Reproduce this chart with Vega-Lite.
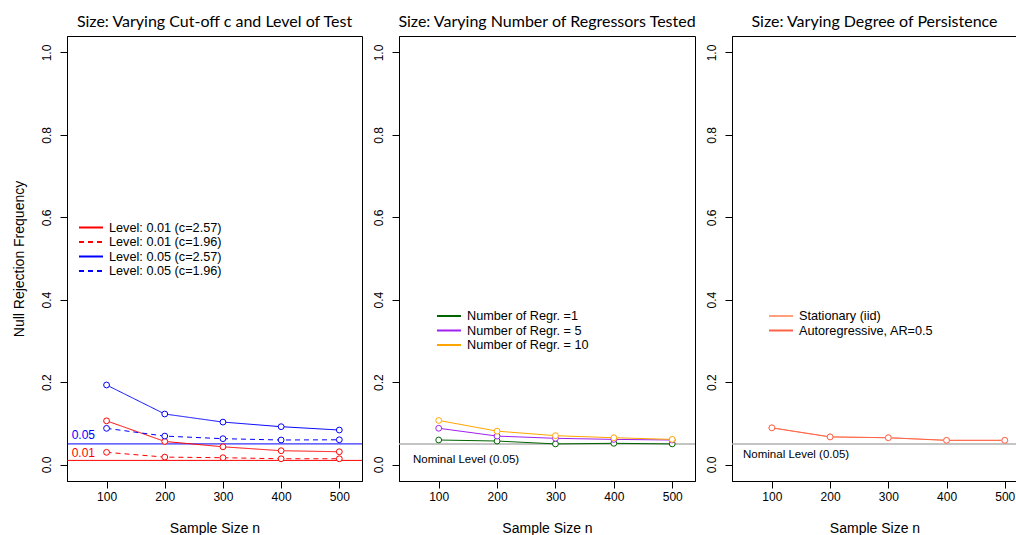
{
  "$schema": "https://vega.github.io/schema/vega-lite/v6.json",
  "background": "white",
  "padding": {"left": 11, "top": 13, "right": 0, "bottom": 0},
  "spacing": 37,
  "bounds": "flush",
  "config": {
    "view": {"stroke": "black", "strokeWidth": 1},
    "font": "Liberation Sans",
    "title": {"font": "Lato", "fontSize": 16, "fontWeight": "normal", "color": "black", "offset": 6, "anchor": "middle"},
    "axis": {"grid": false, "domainColor": "black", "tickColor": "black", "tickSize": 7, "labelColor": "black", "labelFontSize": 12, "labelFont": "Liberation Sans", "titleFont": "Liberation Sans", "titleFontSize": 14, "titleFontWeight": "normal", "titleColor": "black"},
    "axisX": {"labelPadding": 3, "titlePadding": 19, "labelFlush": false},
    "axisY": {"labelAngle": 270, "labelAlign": "center", "labelBaseline": "bottom", "labelPadding": 7, "titlePadding": 14},
    "legend": {"padding": 0, "labelFont": "Liberation Sans", "labelFontSize": 12.7, "labelColor": "black", "symbolSize": 144, "symbolType": "M-2,0H2", "symbolStrokeWidth": 2, "labelOffset": 11, "rowPadding": 0.5, "symbolOffset": 0}
  },
  "datasets": {
    "p1": [
      {"n": 100, "freq": 0.106, "series": "Level: 0.01 (c=2.57)"},
      {"n": 200, "freq": 0.056, "series": "Level: 0.01 (c=2.57)"},
      {"n": 300, "freq": 0.043, "series": "Level: 0.01 (c=2.57)"},
      {"n": 400, "freq": 0.0335, "series": "Level: 0.01 (c=2.57)"},
      {"n": 500, "freq": 0.031, "series": "Level: 0.01 (c=2.57)"},
      {"n": 100, "freq": 0.0296, "series": "Level: 0.01 (c=1.96)"},
      {"n": 200, "freq": 0.018, "series": "Level: 0.01 (c=1.96)"},
      {"n": 300, "freq": 0.0165, "series": "Level: 0.01 (c=1.96)"},
      {"n": 400, "freq": 0.014, "series": "Level: 0.01 (c=1.96)"},
      {"n": 500, "freq": 0.014, "series": "Level: 0.01 (c=1.96)"},
      {"n": 100, "freq": 0.193, "series": "Level: 0.05 (c=2.57)"},
      {"n": 200, "freq": 0.1226, "series": "Level: 0.05 (c=2.57)"},
      {"n": 300, "freq": 0.103, "series": "Level: 0.05 (c=2.57)"},
      {"n": 400, "freq": 0.0918, "series": "Level: 0.05 (c=2.57)"},
      {"n": 500, "freq": 0.0837, "series": "Level: 0.05 (c=2.57)"},
      {"n": 100, "freq": 0.0878, "series": "Level: 0.05 (c=1.96)"},
      {"n": 200, "freq": 0.069, "series": "Level: 0.05 (c=1.96)"},
      {"n": 300, "freq": 0.0627, "series": "Level: 0.05 (c=1.96)"},
      {"n": 400, "freq": 0.0595, "series": "Level: 0.05 (c=1.96)"},
      {"n": 500, "freq": 0.060, "series": "Level: 0.05 (c=1.96)"}
    ],
    "p2": [
      {"n": 100, "freq": 0.0595, "series": "Number of Regr. =1"},
      {"n": 200, "freq": 0.057, "series": "Number of Regr. =1"},
      {"n": 300, "freq": 0.050, "series": "Number of Regr. =1"},
      {"n": 400, "freq": 0.0515, "series": "Number of Regr. =1"},
      {"n": 500, "freq": 0.050, "series": "Number of Regr. =1"},
      {"n": 100, "freq": 0.088, "series": "Number of Regr. = 5"},
      {"n": 200, "freq": 0.069, "series": "Number of Regr. = 5"},
      {"n": 300, "freq": 0.0636, "series": "Number of Regr. = 5"},
      {"n": 400, "freq": 0.061, "series": "Number of Regr. = 5"},
      {"n": 500, "freq": 0.0595, "series": "Number of Regr. = 5"},
      {"n": 100, "freq": 0.107, "series": "Number of Regr. = 10"},
      {"n": 200, "freq": 0.081, "series": "Number of Regr. = 10"},
      {"n": 300, "freq": 0.070, "series": "Number of Regr. = 10"},
      {"n": 400, "freq": 0.065, "series": "Number of Regr. = 10"},
      {"n": 500, "freq": 0.061, "series": "Number of Regr. = 10"}
    ],
    "p3": [
      {"n": 100, "freq": 0.089, "series": "Stationary (iid)"},
      {"n": 200, "freq": 0.067, "series": "Stationary (iid)"},
      {"n": 300, "freq": 0.065, "series": "Stationary (iid)"},
      {"n": 400, "freq": 0.0587, "series": "Stationary (iid)"},
      {"n": 500, "freq": 0.0587, "series": "Stationary (iid)"},
      {"n": 100, "freq": 0.089, "series": "Autoregressive, AR=0.5"},
      {"n": 200, "freq": 0.067, "series": "Autoregressive, AR=0.5"},
      {"n": 300, "freq": 0.065, "series": "Autoregressive, AR=0.5"},
      {"n": 400, "freq": 0.0587, "series": "Autoregressive, AR=0.5"},
      {"n": 500, "freq": 0.0587, "series": "Autoregressive, AR=0.5"}
    ]
  },
  "hconcat": [
    {
      "width": 295,
      "height": 445,
      "title": "Size: Varying Cut-off c and Level of Test",
      "layer": [
        {
          "data": {"values": [{"level": 0.05}]},
          "mark": {"type": "rule", "color": "#0000FF", "strokeWidth": 1},
          "encoding": {"y": {"field": "level", "type": "quantitative", "title": "Null Rejection Frequency", "scale": {"domain": [-0.04, 1.04], "nice": false, "zero": false}, "axis": {"values": [0, 0.2, 0.4, 0.6, 0.8, 1], "format": ".1f"}}}
        },
        {
          "data": {"values": [{"level": 0.01}]},
          "mark": {"type": "rule", "color": "#FF0000", "strokeWidth": 1},
          "encoding": {"y": {"field": "level", "type": "quantitative", "title": "Null Rejection Frequency"}}
        },
        {
          "data": {"name": "p1"},
          "mark": {"type": "line", "strokeWidth": 1},
          "encoding": {
            "x": {"field": "n", "type": "quantitative", "title": "Sample Size n", "scale": {"domain": [32, 539], "nice": false, "zero": false}, "axis": {"values": [100, 200, 300, 400, 500]}},
            "y": {"field": "freq", "type": "quantitative", "title": "Null Rejection Frequency"},
            "color": {"field": "series", "type": "nominal", "scale": {"domain": ["Level: 0.01 (c=2.57)", "Level: 0.01 (c=1.96)", "Level: 0.05 (c=2.57)", "Level: 0.05 (c=1.96)"], "range": ["#FF0000", "#FF0000", "#0000FF", "#0000FF"]}, "legend": {"title": null, "orient": "none", "legendX": 17, "legendY": 184.5, "encode": {"symbols": {"update": {"strokeDash": {"signal": "indexof(datum.value, '1.96') >= 0 ? [8, 8] : [1, 0]"}}}}}},
            "strokeDash": {"field": "series", "type": "nominal", "scale": {"domain": ["Level: 0.01 (c=2.57)", "Level: 0.01 (c=1.96)", "Level: 0.05 (c=2.57)", "Level: 0.05 (c=1.96)"], "range": [[1, 0], [5, 4], [1, 0], [5, 4]]}, "legend": {"title": null, "orient": "none", "legendX": 17, "legendY": 184.5, "encode": {"symbols": {"update": {"strokeDash": {"signal": "indexof(datum.value, '1.96') >= 0 ? [8, 8] : [1, 0]"}}}}}}
          }
        },
        {
          "data": {"name": "p1"},
          "mark": {"type": "point", "shape": "circle", "filled": false, "fill": "white", "size": 34, "strokeWidth": 1, "opacity": 1},
          "encoding": {
            "x": {"field": "n", "type": "quantitative", "title": "Sample Size n"},
            "y": {"field": "freq", "type": "quantitative", "title": "Null Rejection Frequency"},
            "color": {"field": "series", "type": "nominal", "legend": null}
          }
        },
        {
          "data": {"values": [{"label": "0.05"}]},
          "mark": {"type": "text", "color": "#0000FF", "fontSize": 12, "align": "left", "baseline": "middle"},
          "encoding": {"x": {"datum": 40, "type": "quantitative"}, "y": {"datum": 0.0716, "type": "quantitative"}, "text": {"field": "label"}}
        },
        {
          "data": {"values": [{"label": "0.01"}]},
          "mark": {"type": "text", "color": "#FF0000", "fontSize": 12, "align": "left", "baseline": "middle"},
          "encoding": {"x": {"datum": 40, "type": "quantitative"}, "y": {"datum": 0.0286, "type": "quantitative"}, "text": {"field": "label"}}
        }
      ]
    },
    {
      "width": 296,
      "height": 445,
      "title": "Size: Varying Number of Regressors Tested",
      "layer": [
        {
          "data": {"values": [{"level": 0.05}]},
          "mark": {"type": "rule", "color": "#B0B0B0", "strokeWidth": 1.5},
          "encoding": {"y": {"field": "level", "type": "quantitative", "scale": {"domain": [-0.04, 1.04], "nice": false, "zero": false}, "axis": {"title": null, "values": [0, 0.2, 0.4, 0.6, 0.8, 1], "format": ".1f"}}}
        },
        {
          "data": {"name": "p2"},
          "mark": {"type": "line", "strokeWidth": 1},
          "encoding": {
            "x": {"field": "n", "type": "quantitative", "title": "Sample Size n", "scale": {"domain": [32, 539], "nice": false, "zero": false}, "axis": {"values": [100, 200, 300, 400, 500]}},
            "y": {"field": "freq", "type": "quantitative", "axis": {"title": null}},
            "color": {"field": "series", "type": "nominal", "scale": {"domain": ["Number of Regr. =1", "Number of Regr. = 5", "Number of Regr. = 10"], "range": ["#006400", "#A020F0", "#FFA500"]}, "legend": {"title": null, "orient": "none", "legendX": 43, "legendY": 273}}
          }
        },
        {
          "data": {"name": "p2"},
          "mark": {"type": "point", "shape": "circle", "filled": false, "fill": "white", "size": 34, "strokeWidth": 1, "opacity": 1},
          "encoding": {
            "x": {"field": "n", "type": "quantitative", "title": "Sample Size n"},
            "y": {"field": "freq", "type": "quantitative", "axis": {"title": null}},
            "color": {"field": "series", "type": "nominal", "legend": null}
          }
        },
        {
          "data": {"values": [{"label": "Nominal Level (0.05)"}]},
          "mark": {"type": "text", "color": "black", "fontSize": 11.5, "align": "left", "baseline": "middle"},
          "encoding": {"x": {"datum": 56, "type": "quantitative"}, "y": {"datum": 0.0114, "type": "quantitative"}, "text": {"field": "label"}}
        }
      ]
    },
    {
      "width": 285,
      "height": 445,
      "title": "Size: Varying Degree of Persistence",
      "layer": [
        {
          "data": {"values": [{"level": 0.05}]},
          "mark": {"type": "rule", "color": "#B0B0B0", "strokeWidth": 1.5},
          "encoding": {"y": {"field": "level", "type": "quantitative", "scale": {"domain": [-0.04, 1.04], "nice": false, "zero": false}, "axis": {"title": null, "values": [0, 0.2, 0.4, 0.6, 0.8, 1], "format": ".1f"}}}
        },
        {
          "data": {"name": "p3"},
          "mark": {"type": "line", "strokeWidth": 1},
          "encoding": {
            "x": {"field": "n", "type": "quantitative", "title": "Sample Size n", "scale": {"domain": [31.5, 521], "nice": false, "zero": false}, "axis": {"values": [100, 200, 300, 400, 500]}},
            "y": {"field": "freq", "type": "quantitative", "axis": {"title": null}},
            "color": {"field": "series", "type": "nominal", "scale": {"domain": ["Stationary (iid)", "Autoregressive, AR=0.5"], "range": ["#FFA07A", "#FF6347"]}, "legend": {"title": null, "orient": "none", "legendX": 42, "legendY": 273}}
          }
        },
        {
          "data": {"name": "p3"},
          "mark": {"type": "point", "shape": "circle", "filled": false, "fill": "white", "size": 34, "strokeWidth": 1, "opacity": 1},
          "encoding": {
            "x": {"field": "n", "type": "quantitative", "title": "Sample Size n"},
            "y": {"field": "freq", "type": "quantitative", "axis": {"title": null}},
            "color": {"field": "series", "type": "nominal", "legend": null}
          }
        },
        {
          "data": {"values": [{"label": "Nominal Level (0.05)"}]},
          "mark": {"type": "text", "color": "black", "fontSize": 11.5, "align": "left", "baseline": "middle"},
          "encoding": {"x": {"datum": 50.4, "type": "quantitative"}, "y": {"datum": 0.0226, "type": "quantitative"}, "text": {"field": "label"}}
        }
      ]
    }
  ],
  "resolve": {
    "scale": {"color": "independent", "strokeDash": "independent", "x": "independent", "y": "independent"},
    "legend": {"color": "independent", "strokeDash": "independent"}
  }
}
